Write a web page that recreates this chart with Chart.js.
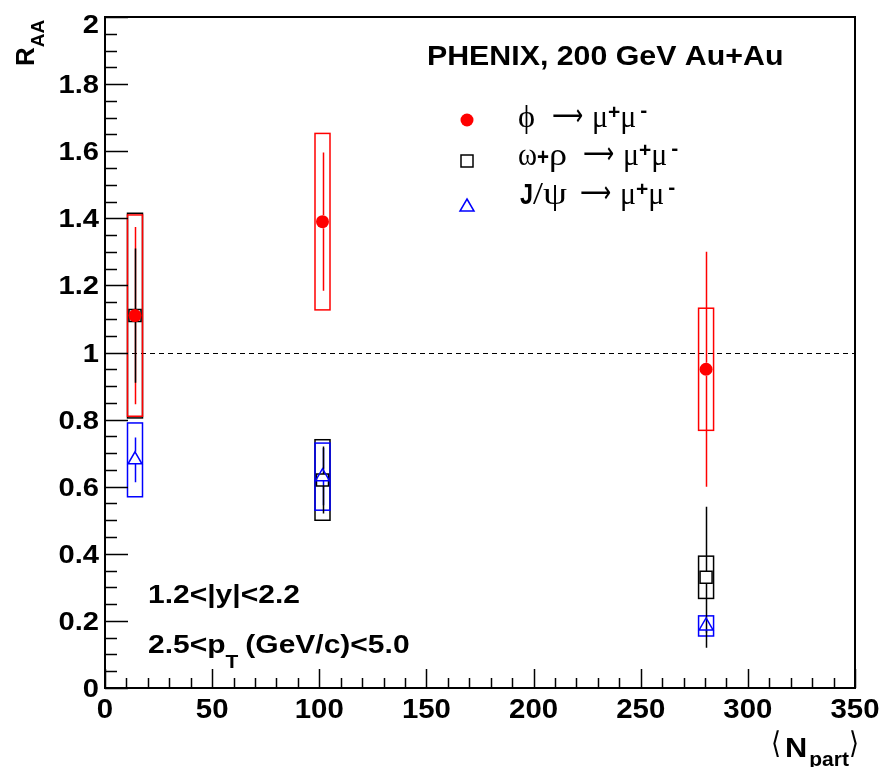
<!DOCTYPE html>
<html>
<head>
<meta charset="utf-8">
<script src="https://cdn.jsdelivr.net/npm/chart.js@4.4.1/dist/chart.umd.min.js"></script>
<style>
  html, body { margin: 0; padding: 0; background: #fff; }
  canvas { display: block; }
</style>
</head>
<body>
<canvas id="raa" width="883" height="767"></canvas>
<script>
// centrality bins: mean number of participants
const nPart = [14, 101.5, 280.5];

// phi -> mu+ mu-
const phiRaa  = [1.11, 1.39, 0.95];
const phiStat = [0.264, 0.206, 0.35];
const phiSys  = [0.30, 0.263, 0.182];

// omega+rho -> mu+ mu-
const omegaRaa  = [1.11, 0.62, 0.33];
const omegaStat = [0.20, 0.10, 0.21];
const omegaSys  = [0.305, 0.12, 0.063];

// J/psi -> mu+ mu-
const jpsiRaa  = [0.68, 0.63, 0.185];
const jpsiStat = [0.067, 0.085, 0.02];
const jpsiSys  = [0.11, 0.10, 0.03];

// axis ticks (minor step / labelled values)
const xTickStep = 10;
const xTickLabels = [0, 50, 100, 150, 200, 250, 300, 350];
const yTickStep = 0.05;
const yTickLabels = [0, 0.2, 0.4, 0.6, 0.8, 1, 1.2, 1.4, 1.6, 1.8, 2];

const boxHalfWidth = 3.5; // systematic box half width, in N_part
const SANS = "'Liberation Sans', Arial, Helvetica, sans-serif";
const SERIF = "'Liberation Serif', 'DejaVu Serif', serif";
const ARROW = "'DejaVu Sans', sans-serif";

const isLabelled = (v, list) => list.some(l => Math.abs(l - v) < 1e-6);

// draw order of the error decorations: boxes then bars
const series = [
  { y: omegaRaa, stat: omegaStat, sys: omegaSys, color: '#000000', gap: [6, 6] },
  { y: phiRaa,   stat: phiStat,   sys: phiSys,   color: '#ff0000', gap: [6.5, 6.5] },
  { y: jpsiRaa,  stat: jpsiStat,  sys: jpsiSys,  color: '#0000ff', gap: [8, 4] }
];

const toPoints = vals => nPart.map((n, i) => ({ x: n, y: vals[i] }));

// dashed unity line, systematic boxes and statistical bars
const errorDecor = {
  id: 'errorDecor',
  beforeDatasetsDraw(chart) {
    const { ctx, chartArea: a, scales: { x, y } } = chart;
    ctx.save();

    const y1 = Math.round(y.getPixelForValue(1)) + 0.5;
    ctx.strokeStyle = '#000';
    ctx.lineWidth = 1;
    ctx.setLineDash([5, 4]);
    ctx.beginPath();
    ctx.moveTo(a.left, y1);
    ctx.lineTo(a.right, y1);
    ctx.stroke();
    ctx.setLineDash([]);

    ctx.lineWidth = 1.5;
    series.forEach(s => {
      ctx.strokeStyle = s.color;
      nPart.forEach((n, i) => {
        const l = x.getPixelForValue(n - boxHalfWidth);
        const r = x.getPixelForValue(n + boxHalfWidth);
        const t = y.getPixelForValue(s.y[i] + s.sys[i]);
        const b = y.getPixelForValue(s.y[i] - s.sys[i]);
        ctx.strokeRect(l, t, r - l, b - t);
      });
    });

    [series[1], series[2], series[0]].forEach(s => {
      ctx.strokeStyle = s.color;
      nPart.forEach((n, i) => {
        const px = Math.round(x.getPixelForValue(n)) + 0.5;
        const py = y.getPixelForValue(s.y[i]);
        const hi = y.getPixelForValue(s.y[i] + s.stat[i]);
        const lo = y.getPixelForValue(s.y[i] - s.stat[i]);
        ctx.beginPath();
        if (hi < py - s.gap[0]) { ctx.moveTo(px, hi); ctx.lineTo(px, py - s.gap[0]); }
        if (lo > py + s.gap[1]) { ctx.moveTo(px, py + s.gap[1]); ctx.lineTo(px, lo); }
        ctx.stroke();
      });
    });
    ctx.restore();
  }
};

// text run with sub/superscripts; sx widens a piece, w forces its width
function drawRich(ctx, x, y, parts) {
  let cx = x;
  parts.forEach(p => {
    cx += p.dx || 0;
    ctx.font = p.font;
    const tw = ctx.measureText(p.text).width;
    const sx = p.w ? p.w / tw : (p.sx || 1);
    ctx.save();
    ctx.translate(cx, y + (p.dy || 0));
    ctx.scale(sx, 1);
    ctx.fillText(p.text, 0, 0);
    ctx.restore();
    cx += tw * sx;
  });
}

function drawStretched(ctx, text, x, y, sx, align) {
  const w = ctx.measureText(text).width * sx;
  const left = align === 'right' ? x - w : align === 'center' ? x - w / 2 : x;
  ctx.save();
  ctx.translate(left, y);
  ctx.scale(sx, 1);
  ctx.fillText(text, 0, 0);
  ctx.restore();
}

// frame, inward ticks, tick labels, titles and legend
const frameAndText = {
  id: 'frameAndText',
  afterDraw(chart) {
    const { ctx, chartArea: a, scales: { x, y } } = chart;
    ctx.save();
    ctx.strokeStyle = '#000';
    ctx.lineWidth = 1.5;
    ctx.beginPath();
    x.ticks.forEach(t => {
      const px = Math.round(x.getPixelForValue(t.value)) + 0.5;
      const len = isLabelled(t.value, xTickLabels) ? 19 : 10;
      ctx.moveTo(px, a.bottom);
      ctx.lineTo(px, a.bottom - len);
    });
    y.ticks.forEach(t => {
      const py = Math.round(y.getPixelForValue(t.value)) + 0.5;
      const len = isLabelled(t.value, yTickLabels) ? 23 : 12;
      ctx.moveTo(a.left, py);
      ctx.lineTo(a.left + len, py);
    });
    ctx.stroke();
    ctx.lineWidth = 2;
    ctx.strokeRect(a.left, a.top, a.right - a.left, a.bottom - a.top);

    ctx.fillStyle = '#000';
    ctx.textBaseline = 'alphabetic';
    ctx.textAlign = 'left';

    // tick labels
    ctx.font = `bold 28px ${SANS}`;
    x.ticks.forEach(t => {
      if (!t.label) return;
      drawStretched(ctx, t.label, x.getPixelForValue(t.value), a.bottom + 30, 1.05, 'center');
    });
    ctx.font = `bold 26px ${SANS}`;
    y.ticks.forEach(t => {
      if (!t.label) return;
      const py = Math.max(y.getPixelForValue(t.value), a.top + 7);
      drawStretched(ctx, t.label, a.left - 6, py + 9, 1.12, 'right');
    });

    // y title
    ctx.save();
    ctx.translate(34, 66);
    ctx.rotate(-Math.PI / 2);
    drawRich(ctx, 0, 0, [
      { text: 'R', font: `bold 26px ${SANS}` },
      { text: 'AA', font: `bold 19px ${SANS}`, dy: 10 }
    ]);
    ctx.restore();

    // x title
    drawRich(ctx, 771, 757, [
      { text: '\u27E8', font: `30px ${ARROW}`, dy: -4, w: 10 },
      { text: 'N', font: `bold 28px ${SANS}`, dx: 4, sx: 1.1 },
      { text: 'part', font: `bold 21px ${SANS}`, dx: 2, dy: 9 },
      { text: '\u27E9', font: `30px ${ARROW}`, dy: -4, w: 10 }
    ]);

    // header
    ctx.font = `bold 28px ${SANS}`;
    drawStretched(ctx, 'PHENIX, 200 GeV Au+Au', 427, 65, 1.083, 'left');

    // legend markers
    const lx = 467;
    const rows = [127, 165, 204];
    ctx.lineWidth = 1.5;
    ctx.fillStyle = '#ff0000';
    ctx.beginPath();
    ctx.arc(lx, 120, 6.5, 0, Math.PI * 2);
    ctx.fill();
    ctx.strokeStyle = '#000';
    ctx.strokeRect(lx - 6, 155, 12, 12);
    ctx.strokeStyle = '#0000ff';
    ctx.beginPath();
    ctx.moveTo(lx, 199);
    ctx.lineTo(lx + 7, 211);
    ctx.lineTo(lx - 7, 211);
    ctx.closePath();
    ctx.stroke();

    // legend labels
    ctx.fillStyle = '#000';
    const gk = `31px ${SERIF}`;
    const sup = `bold 21px ${SANS}`;
    const muMu = gap => [
      { text: '\u27F6', font: `30px ${ARROW}`, dx: gap, w: 31, dy: -2 },
      { text: '\u03BC', font: gk, dx: 9, w: 16 },
      { text: '+', font: sup, dy: -8 },
      { text: '\u03BC', font: gk, w: 16 },
      { text: '-', font: sup, dy: -10, dx: 4 }
    ];
    drawRich(ctx, 518, rows[0], [{ text: '\u03D5', font: gk, w: 17 }, ...muMu(17)]);
    drawRich(ctx, 518, rows[1], [
      { text: '\u03C9', font: gk, w: 19 },
      { text: '+', font: `bold 24px ${SANS}`, w: 12 },
      { text: '\u03C1', font: gk, w: 18 },
      ...muMu(16)
    ]);
    drawRich(ctx, 520, rows[2], [
      { text: 'J', font: `bold 30px ${SANS}`, w: 13 },
      { text: '/', font: gk, w: 10 },
      { text: '\u03C8', font: gk, w: 24 },
      ...muMu(13)
    ]);

    // kinematic cuts
    drawRich(ctx, 148, 603, [{ text: '1.2<|y|<2.2', font: `bold 25px ${SANS}`, sx: 1.2 }]);
    drawRich(ctx, 148, 653, [
      { text: '2.5<p', font: `bold 25px ${SANS}`, sx: 1.2 },
      { text: 'T', font: `bold 19px ${SANS}`, dy: 15, sx: 1.1 },
      { text: '(GeV/c)<5.0', font: `bold 25px ${SANS}`, dx: 7, sx: 1.2 }
    ]);
    ctx.restore();
  }
};

Chart.defaults.font.family = SANS;
Chart.defaults.color = '#000';

new Chart(document.getElementById('raa'), {
  type: 'scatter',
  data: {
    datasets: [
      {
        label: '\u03D5 \u2192 \u03BC\u207A\u03BC\u207B',
        data: toPoints(phiRaa),
        pointStyle: 'circle',
        pointRadius: 6.5,
        pointBorderWidth: 0,
        pointBackgroundColor: '#ff0000',
        pointBorderColor: '#ff0000'
      },
      {
        label: 'J/\u03C8 \u2192 \u03BC\u207A\u03BC\u207B',
        data: toPoints(jpsiRaa),
        pointStyle: 'triangle',
        pointRadius: 8,
        pointBorderWidth: 1.5,
        pointBackgroundColor: 'rgba(0,0,0,0)',
        pointBorderColor: '#0000ff'
      },
      {
        label: '\u03C9+\u03C1 \u2192 \u03BC\u207A\u03BC\u207B',
        data: toPoints(omegaRaa),
        pointStyle: 'rect',
        pointRadius: 8.5,
        pointBorderWidth: 1.5,
        pointBackgroundColor: 'rgba(0,0,0,0)',
        pointBorderColor: '#000000'
      }
    ]
  },
  options: {
    responsive: false,
    animation: false,
    events: [],
    layout: { padding: { top: 17, right: 28, left: 0, bottom: 0 } },
    plugins: { legend: { display: false }, tooltip: { enabled: false } },
    scales: {
      x: {
        type: 'linear',
        min: 0,
        max: 350,
        grid: { display: false },
        border: { display: false },
        afterFit: s => { s.height = 79; },
        ticks: {
          display: false,
          stepSize: xTickStep,
          autoSkip: false,
          maxRotation: 0,
          callback: v => isLabelled(v, xTickLabels) ? String(Math.round(v)) : ''
        }
      },
      y: {
        type: 'linear',
        min: 0,
        max: 2,
        grid: { display: false },
        border: { display: false },
        afterFit: s => { s.width = 105; },
        ticks: {
          display: false,
          stepSize: yTickStep,
          autoSkip: false,
          callback: v => isLabelled(v, yTickLabels) ? String(+v.toFixed(1)) : ''
        }
      }
    }
  },
  plugins: [errorDecor, frameAndText]
});
</script>
</body>
</html>
